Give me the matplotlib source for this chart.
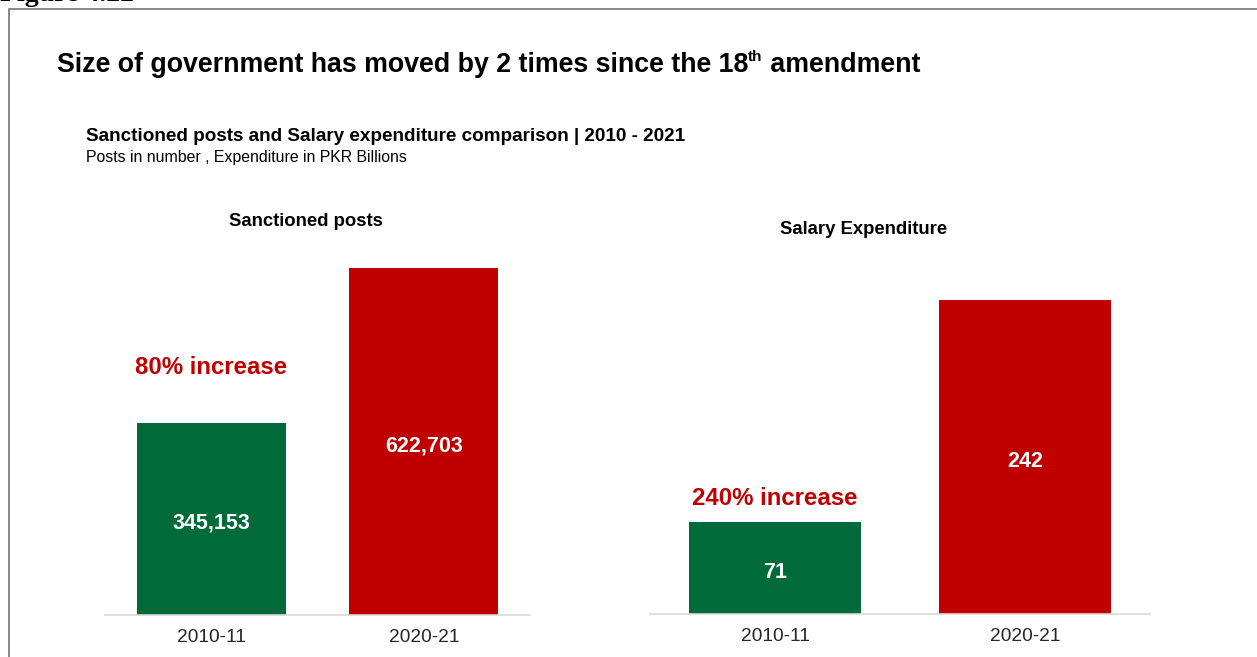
import matplotlib
matplotlib.use("Agg")
import matplotlib.pyplot as plt
from matplotlib.lines import Line2D

# ---------------------------------------------------------------------------
# Data
# ---------------------------------------------------------------------------
years = ["2010-11", "2020-21"]
posts = [345153, 622703]
salary = [71, 242]
posts_increase = "80% increase"
salary_increase = "240% increase"

GREEN = "#006A38"
RED = "#C00000"
TEXT = "#000000"
TICK = "#262626"
AXIS = "#D9D9D9"

NARROW = ["Liberation Sans Narrow", "Liberation Sans", "DejaVu Sans"]
ARIAL = ["Liberation Sans", "DejaVu Sans"]

W, H = 1257, 657
fig = plt.figure(figsize=(W / 100, H / 100), dpi=100)
fig.patch.set_facecolor("white")


def fx(x):
    return x / W


def fy(y):
    return 1 - y / H


# page frame and clipped figure caption
fig.add_artist(Line2D([fx(9), fx(9), fx(W + 5)], [fy(H + 5), fy(9), fy(9)],
                      transform=fig.transFigure, color="#7F7F7F", lw=1.3))
fig.text(fx(0), fy(1), "Figure 4.22", family=["Liberation Serif", "DejaVu Serif"],
         fontweight="bold", fontsize=20, va="baseline", ha="left")

# headline with superscript "th"
HEAD = 19.3
t1 = fig.text(fx(57), fy(72), "Size of government has moved by 2 times since the 18",
              family=ARIAL, fontweight="bold", fontsize=HEAD, va="baseline")
fig.canvas.draw()
bb = t1.get_window_extent()
t2 = fig.text(bb.x1 / W, fy(61), "th", family=ARIAL, fontweight="bold",
              fontsize=11, va="baseline")
bb2 = t2.get_window_extent()
fig.text(bb2.x1 / W, fy(72), " amendment", family=ARIAL, fontweight="bold",
         fontsize=HEAD, va="baseline")

fig.text(fx(86), fy(141), "Sanctioned posts and Salary expenditure comparison | 2010 - 2021",
         family=NARROW, fontweight="bold", fontsize=13.6, va="baseline")
fig.text(fx(86), fy(162), "Posts in number , Expenditure in PKR Billions",
         family=NARROW, fontsize=11.4, va="baseline")

fig.text(fx(306), fy(222), "Sanctioned posts", family=NARROW, fontweight="bold",
         fontsize=13.3, ha="center", va="center")
fig.text(fx(864), fy(229), "Salary Expenditure", family=NARROW, fontweight="bold",
         fontsize=13.3, ha="center", va="center")


def bar_panel(rect, values, width, fmt, note, note_offset):
    ax = fig.add_axes(rect)
    ax.bar(range(len(values)), values, width=width, color=[GREEN, RED])
    ax.set_xlim(-0.5, 1.5)
    ax.set_ylim(0, max(values))
    for s in ["top", "left", "right"]:
        ax.spines[s].set_visible(False)
    ax.spines["bottom"].set_color(AXIS)
    ax.spines["bottom"].set_linewidth(1.2)
    ax.set_yticks([])
    ax.set_xticks(range(len(values)))
    ax.set_xticklabels(years, family=NARROW, fontsize=13.8, color=TICK)
    ax.tick_params(axis="x", length=0, pad=10)
    for i, v in enumerate(values):
        ax.annotate(fmt(v), xy=(i, v / 2), xytext=(0, -3), textcoords="offset points",
                    ha="center", va="center", color="white",
                    family=ARIAL, fontweight="bold", fontsize=15.5)
    ax.annotate(note, xy=(0, values[0]), xytext=(0, note_offset),
                textcoords="offset points", ha="center", va="center",
                color=RED, family=ARIAL, fontweight="bold", fontsize=17.3)
    ax.patch.set_alpha(0)
    return ax


bar_panel([fx(105), fy(615), 425 / W, 347 / H], posts, 0.7,
          lambda v: f"{v:,}", posts_increase, 40)
bar_panel([fx(650), fy(614), 500 / W, 314 / H], salary, 0.69,
          lambda v: f"{v}", salary_increase, 17)

fig.savefig("out.png", dpi=100, facecolor="white")
